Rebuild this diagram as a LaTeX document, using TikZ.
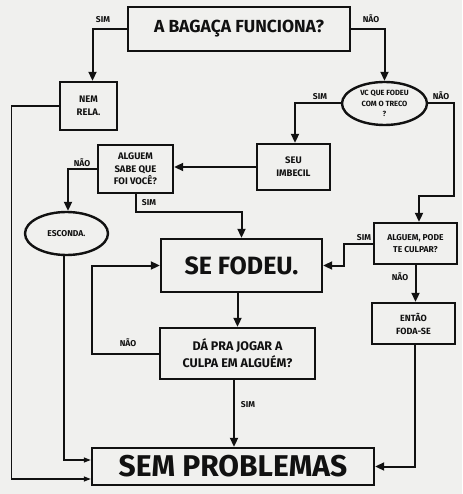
\documentclass[tikz,border=0pt]{standalone}
\usepackage{fontspec}
\setmainfont{Fira Sans}
\usetikzlibrary{arrows.meta,shapes.geometric}
\definecolor{paper}{HTML}{F0F0EE}
\definecolor{ink}{HTML}{111111}
\tikzset{
  box/.style={draw=ink,line width=2.4pt,rectangle,inner sep=0pt,align=center,text=ink},
  oval/.style={draw=ink,line width=2.4pt,ellipse,inner sep=0pt,align=center,text=ink},
  arr/.style={draw=ink,line width=2pt,-{Triangle[length=9pt,width=8pt]}},
  thinarr/.style={draw=ink,line width=1.2pt,-{Triangle[length=7pt,width=5pt]}},
  lab/.style={font=\fontsize{8.5}{9}\selectfont\bfseries,text=ink,inner sep=0pt},
}
\begin{document}
\begin{tikzpicture}[x=1pt,y=-1pt]
\fill[paper] (0,0) rectangle (462,494);
\useasboundingbox (0,0) rectangle (462,494);

\node[box,minimum width=222pt,minimum height=44pt,font=\fontsize{17.5}{19}\selectfont\bfseries] (n1) at (239,29) {A BAGAÇA FUNCIONA?};
\node[box,minimum width=57pt,minimum height=48pt,font=\fontsize{9.5}{13}\selectfont\bfseries] (nem) at (88.5,106) {NEM\\RELA.};
\node[oval,minimum width=85pt,minimum height=43pt,font=\fontsize{7.5}{10.5}\selectfont\bfseries] (vc) at (384.5,103.5) {VC QUE FODEU\\COM O TRECO\\?};
\node[box,minimum width=73pt,minimum height=46pt,font=\fontsize{9.5}{13}\selectfont\bfseries] (seu) at (293.5,167) {SEU\\IMBECIL};
\node[box,minimum width=75pt,minimum height=48pt,font=\fontsize{9.5}{12.5}\selectfont\bfseries] (alg) at (135.5,169) {ALGUEM\\SABE QUE\\FOI VOCÊ?};
\node[oval,minimum width=83pt,minimum height=43pt,font=\fontsize{8.5}{11}\selectfont\bfseries] (esc) at (66.5,233.5) {ESCONDA.};
\node[box,minimum width=161pt,minimum height=53pt,font=\fontsize{25}{28}\selectfont\bfseries] (sef) at (241.5,265.5) {SE FODEU.};
\node[box,minimum width=83pt,minimum height=41pt,font=\fontsize{8.5}{12}\selectfont\bfseries] (pod) at (415.5,243.5) {ALGUEM, PODE\\TE CULPAR?};
\node[box,minimum width=83pt,minimum height=41pt,font=\fontsize{9}{13}\selectfont\bfseries] (ent) at (413.5,323.5) {ENTÃO\\FODA-SE};
\node[box,minimum width=155pt,minimum height=51pt,font=\fontsize{12.5}{17}\selectfont\bfseries] (da) at (237.5,353.5) {DÁ PRA JOGAR A\\CULPA EM ALGUÉM?};
\node[box,minimum width=282pt,minimum height=37pt,font=\fontsize{30}{31}\selectfont\bfseries] (sem) at (233,466.5) {SEM PROBLEMAS};

% connectors
\draw[arr] (n1.west) -| ([xshift=4pt]nem.north);
\draw[arr] (n1.east) -| (vc.north);
\draw[arr] (vc.west) -| ([xshift=1.5pt]seu.north);
\draw[arr] (vc.east) -- ++(26,0) -- ++(0,92) -| ([xshift=3.5pt]pod.north);
\draw[arr] (seu.west) -- (seu.west-|alg.east);
\draw[arr] (alg.west) -| ([xshift=1.5pt]esc.north);
\draw[arr] (alg.south) -- ++(0,18) -| (sef.north);
\draw[arr] (pod.west) -- ++(-29,0) |- (sef.east);
\draw[arr] (pod.south) -- (pod.south|-ent.north);
\draw[arr] (da.north|-sef.south) -- (da.north);
\draw[arr] (da.west) -- ++(-67,0) |- (sef.west);
\draw[arr] ([xshift=-3.5pt]da.south) -- ([xshift=-3.5pt]da.south|-sem.north);
\draw[arr] ([xshift=1.5pt]ent.south) |- (sem.east);
\draw[thinarr] ([xshift=-2.5pt]esc.south) |- ([yshift=6.5pt]sem.west);
\draw[thinarr] (nem.west) -- ++(-47,0) |- ([yshift=-12.5pt]sem.west);

% labels
\node[lab] (l1) at (103,20) {SIM};
\node[lab] (l2) at (371,19) {NÃO};
\node[lab] (l3) at (320,97) {SIM};
\node[lab] (l4) at (441,96) {NÃO};
\node[lab] (l5) at (82,163) {NÃO};
\node[lab] (l6) at (149,203) {SIM};
\node[lab] (l7) at (364,238) {SIM};
\node[lab] (l8) at (400,277) {NÃO};
\node[lab] (l9) at (128,343) {NÃO};
\node[lab] (l10) at (248,405) {SIM};
\end{tikzpicture}
\end{document}
